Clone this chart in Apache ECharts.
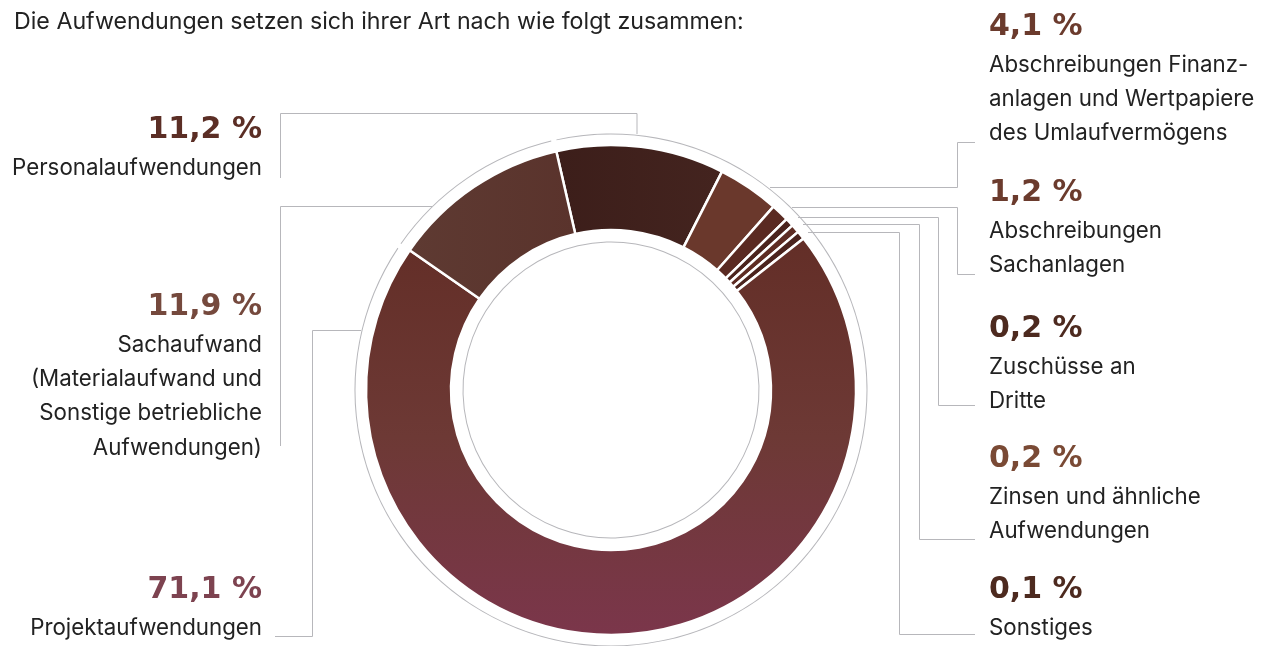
<!DOCTYPE html>
<html>
<head>
<meta charset="utf-8">
<script src="https://cdn.jsdelivr.net/npm/echarts@6/dist/echarts.min.js"></script>
<style>
html,body{margin:0;padding:0;background:#fff;}
#chart{width:1263px;height:646px;}
</style>
</head>
<body>
<div id="chart"></div>
<script>
// ---- data ----
const titleText = 'Die Aufwendungen setzen sich ihrer Art nach wie folgt zusammen:';
const categories = [
  'Personalaufwendungen',
  'Abschreibungen Finanz-\nanlagen und Wertpapiere\ndes Umlaufvermögens',
  'Abschreibungen\nSachanlagen',
  'Zuschüsse an\nDritte',
  'Zinsen und ähnliche\nAufwendungen',
  'Sonstiges',
  'Projektaufwendungen',
  'Sachaufwand\n(Materialaufwand und\nSonstige betriebliche\nAufwendungen)'
];
const values = [11.2, 4.1, 1.2, 0.2, 0.2, 0.1, 71.1, 11.9];

// ---- styling / layout ----
const sliceColors = [
  {type:'linear',x:0,y:0,x2:1,y2:0,colorStops:[{offset:0,color:'#3c1e1a'},{offset:1,color:'#44241f'}]},
  '#6a382c', '#5a2a22', '#4b231d', '#5e2c23', '#4b231d',
  {type:'linear',x:0.5,y:0,x2:0.5,y2:1,colorStops:[{offset:0,color:'#632e27'},{offset:0.5,color:'#6d3935'},{offset:1,color:'#7b364b'}]},
  {type:'linear',x:0,y:0,x2:1,y2:0,colorStops:[{offset:0,color:'#5e3a32'},{offset:1,color:'#5a332c'}]}
];
const numberColors = ['#5b2e25','#6b3b2d','#6b3b2d','#4d2a1f','#7a4a35','#4d2a1f','#7d4350','#75493d'];
const labelPos = [
  {x:262, y:109, align:'right'},
  {x:989, y:6,   align:'left'},
  {x:989, y:172, align:'left'},
  {x:989, y:308, align:'left'},
  {x:989, y:438, align:'left'},
  {x:989, y:569, align:'left'},
  {x:262, y:569, align:'right'},
  {x:262, y:286, align:'right'}
];
const leaderLines = [
  [[637,134],[637,113.5],[280.5,113.5],[280.5,178]],
  [[432,206.5],[280.5,206.5],[280.5,446]],
  [[361,330.5],[312.5,330.5],[312.5,636.5],[275,636.5]],
  [[770,187.5],[957.5,187.5],[957.5,142.5],[975,142.5]],
  [[792,207.5],[957.5,207.5],[957.5,274.5],[975,274.5]],
  [[798,217.5],[938.5,217.5],[938.5,405.5],[975,405.5]],
  [[803,224.5],[919.5,224.5],[919.5,539.5],[975,539.5]],
  [[808,232.5],[899.5,232.5],[899.5,634.5],[975,634.5]]
];
const gray = '#b7b7bb';
const CENTER = [611, 390];
const startAngle = 102.9;

const fmtPct = v => v.toFixed(1).replace('.', ',') + ' %';
const total = values.reduce((a,b)=>a+b,0);
const sachIdx = values.length - 1;

const rich = {
  n: {fontFamily:'Inter', fontSize:22.3, lineHeight:34.3, color:'#222'}
};
numberColors.forEach((c,i)=>{
  rich['v'+i] = {fontFamily:'DejaVu Sans', fontWeight:'bold', fontSize:30, lineHeight:42, color:c};
});

const chart = echarts.init(document.getElementById('chart'), null, {renderer:'canvas'});
chart.setOption({
  animation:false,
  backgroundColor:'#fff',
  title:{
    text:titleText, left:9, top:6,
    textStyle:{fontFamily:'Inter', fontSize:23.2, fontWeight:'normal', color:'#222'}
  },
  graphic: leaderLines.map(pts=>({
    type:'polyline', silent:true,
    shape:{points:pts},
    style:{stroke:gray, lineWidth:1, fill:null}
  })),
  series:[
    {
      type:'pie', silent:true, center:CENTER, radius:[147.5,148.5],
      startAngle:startAngle, label:{show:false}, labelLine:{show:false},
      itemStyle:{color:gray}, data:[{value:total}]
    },
    {
      type:'pie', silent:true, center:CENTER, radius:[255.5,256.5],
      startAngle:startAngle, padAngle:1.2, label:{show:false}, labelLine:{show:false},
      itemStyle:{color:gray},
      data:[{value: total - values[sachIdx]}, {value: values[sachIdx]}]
    },
    {
      type:'pie', silent:true, center:CENTER, radius:[160,245],
      startAngle:startAngle, clockwise:true, minAngle:2,
      avoidLabelOverlap:false,
      itemStyle:{borderColor:'#fff', borderWidth:2.5},
      labelLine:{show:false},
      label:{
        show:true, position:'outside',
        formatter: p => {
          const i = p.dataIndex;
          const lines = categories[i].split('\n').map(l=>'{n|'+l+'}');
          return ['{v'+i+'|'+fmtPct(values[i])+'}'].concat(lines).join('\n');
        },
        rich: rich
      },
      labelLayout: p => {
        const lp = labelPos[p.dataIndex];
        return {x:lp.x, y:lp.y, align:lp.align, verticalAlign:'top'};
      },
      data: values.map((v,i)=>({name:categories[i], value:v, itemStyle:{color:sliceColors[i]}}))
    }
  ]
});
</script>
</body>
</html>
